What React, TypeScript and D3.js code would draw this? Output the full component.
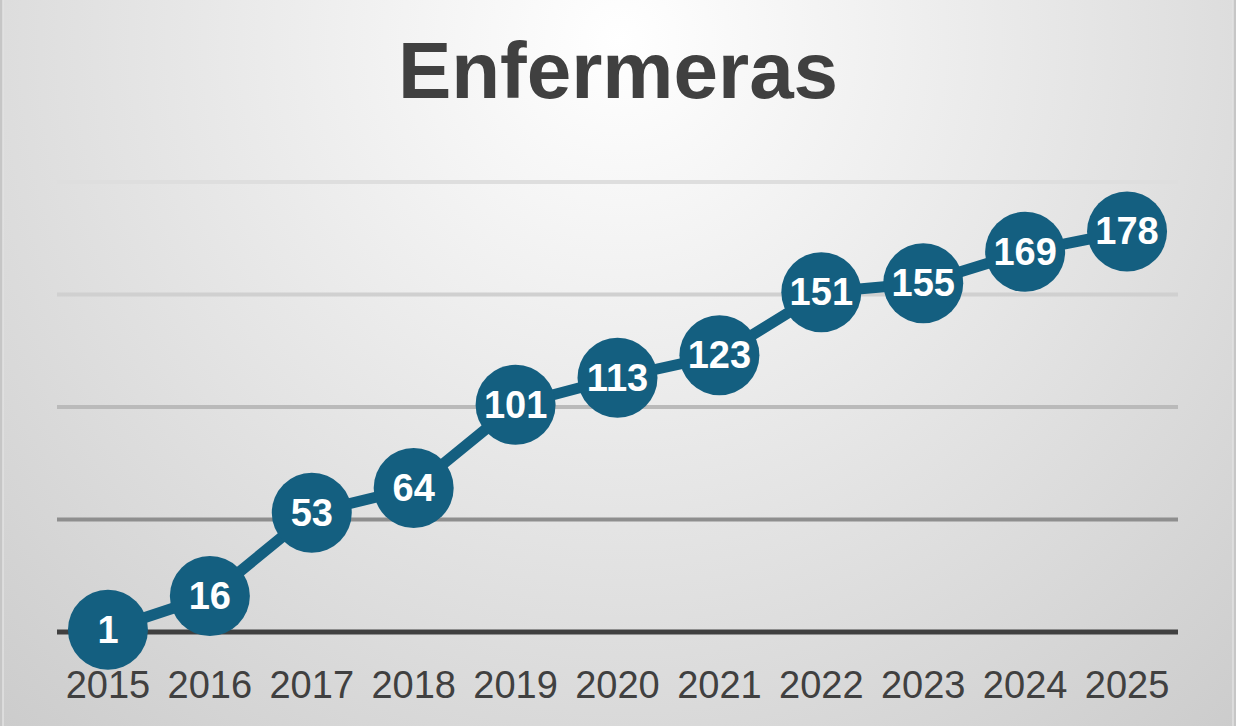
import * as d3 from 'd3';
import React, { useEffect, useRef } from 'react';

// Datos del gráfico
const years = ['2015', '2016', '2017', '2018', '2019', '2020', '2021', '2022', '2023', '2024', '2025'];
const nurses = [1, 16, 53, 64, 101, 113, 123, 151, 155, 169, 178];
const gridTicks = [0, 50, 100, 150, 200];
const chartTitle = 'Enfermeras';

const WIDTH = 1236;
const HEIGHT = 726;

export default function App() {
  const svgRef = useRef<SVGSVGElement | null>(null);

  useEffect(() => {
    const root = d3.select(svgRef.current);
    root.selectAll('*').remove();

    const margin = { top: 182, right: 58, bottom: 94, left: 57 };
    const innerW = WIDTH - margin.left - margin.right;
    const innerH = HEIGHT - margin.top - margin.bottom;

    // fondo con degradado radial
    const defs = root.append('defs');
    const grad = defs
      .append('radialGradient')
      .attr('id', 'bg')
      .attr('gradientUnits', 'userSpaceOnUse')
      .attr('cx', 620)
      .attr('cy', 40)
      .attr('r', 980);
    grad.append('stop').attr('offset', '0%').attr('stop-color', '#ffffff');
    grad.append('stop').attr('offset', '35%').attr('stop-color', '#ececec');
    grad.append('stop').attr('offset', '100%').attr('stop-color', '#c9c9c9');

    root.append('rect').attr('width', WIDTH).attr('height', HEIGHT).attr('fill', '#c6c6c6');
    root
      .append('rect')
      .attr('x', 3)
      .attr('y', -2)
      .attr('width', WIDTH - 6)
      .attr('height', HEIGHT + 4)
      .attr('fill', 'url(#bg)')
      .attr('stroke', '#e2e2e2')
      .attr('stroke-width', 1.5);

    const x = d3.scaleBand().domain(years).range([0, innerW]).padding(0);
    const y = d3.scaleLinear().domain([0, 200]).range([innerH, 0]);
    const gridColor = d3
      .scaleLinear<string>()
      .domain([50, 100, 150, 200])
      .range(['#8e8e8e', '#bababa', '#d0d0d0', '#dedede']);

    const g = root.append('g').attr('transform', `translate(${margin.left},${margin.top})`);

    // líneas de cuadrícula
    g.selectAll('.grid')
      .data(gridTicks.filter((t) => t > 0))
      .enter()
      .append('line')
      .attr('x1', 0)
      .attr('x2', innerW)
      .attr('y1', (d) => y(d))
      .attr('y2', (d) => y(d))
      .attr('stroke', (d) => gridColor(d))
      .attr('stroke-width', 4);

    // eje base
    g.append('line')
      .attr('x1', 0)
      .attr('x2', innerW)
      .attr('y1', y(0))
      .attr('y2', y(0))
      .attr('stroke', '#404040')
      .attr('stroke-width', 5);

    // etiquetas de años
    g.selectAll('.year')
      .data(years)
      .enter()
      .append('text')
      .attr('x', (d) => x(d)! + x.bandwidth() / 2)
      .attr('y', innerH + 66)
      .attr('text-anchor', 'middle')
      .attr('fill', '#404040')
      .style('font-family', '"Liberation Sans", Arial, sans-serif')
      .style('font-size', '38px')
      .text((d) => d);

    const cx = (i: number) => x(years[i])! + x.bandwidth() / 2;

    // línea
    const line = d3
      .line<number>()
      .x((_, i) => cx(i))
      .y((d) => y(d));
    g.append('path')
      .datum(nurses)
      .attr('d', line)
      .attr('fill', 'none')
      .attr('stroke', '#145f80')
      .attr('stroke-width', 11);

    // marcadores
    g.selectAll('.dot')
      .data(nurses)
      .enter()
      .append('circle')
      .attr('cx', (_, i) => cx(i))
      .attr('cy', (d) => y(d))
      .attr('r', 40)
      .attr('fill', '#145f80');

    g.selectAll('.val')
      .data(nurses)
      .enter()
      .append('text')
      .attr('x', (_, i) => cx(i))
      .attr('y', (d) => y(d))
      .attr('dy', '0.34em')
      .attr('text-anchor', 'middle')
      .attr('fill', '#ffffff')
      .style('font-family', '"Liberation Sans", Arial, sans-serif')
      .style('font-weight', 'bold')
      .style('font-size', '38px')
      .text((d) => d);

    // título
    root
      .append('text')
      .attr('x', 618)
      .attr('y', 98)
      .attr('text-anchor', 'middle')
      .attr('fill', '#404040')
      .style('font-family', '"Liberation Sans", Arial, sans-serif')
      .style('font-weight', 'bold')
      .style('font-size', '80px')
      .text(chartTitle);
  }, []);

  return (
    <div style={{ position: 'absolute', left: 0, top: 0, width: WIDTH, height: HEIGHT }}>
      <svg ref={svgRef} width={WIDTH} height={HEIGHT} style={{ display: 'block' }} />
    </div>
  );
}
